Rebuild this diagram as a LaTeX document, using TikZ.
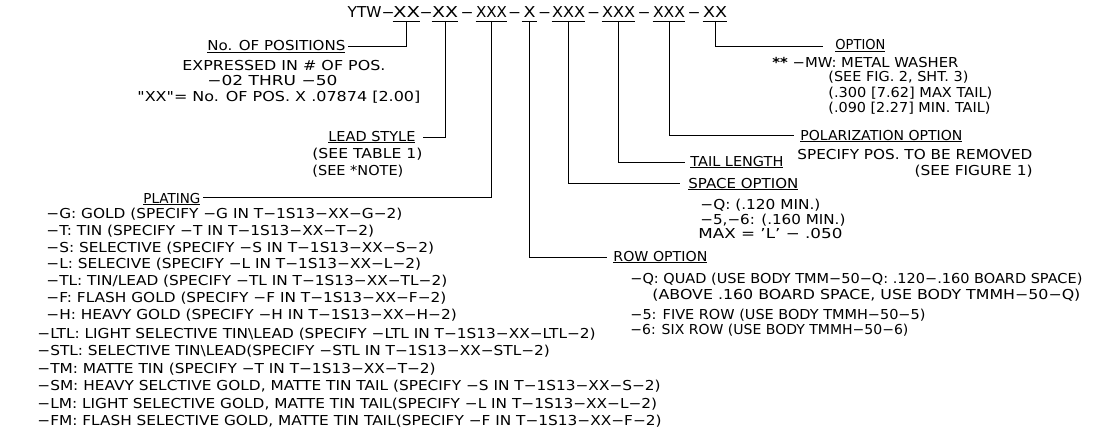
\documentclass[tikz,border=0pt]{standalone}
\usepackage{graphicx}
\usepackage{fontspec}
\newfontfamily\cad[FakeStretch=1.12]{DejaVu Sans}
\newfontfamily\cadt{DejaVu Sans}
\newcommand\fw[2]{\resizebox{#1pt}{\height}{#2}}
\begin{document}
\begin{tikzpicture}[x=1pt,y=-1pt,line width=0.8pt,
  txt/.style={inner sep=0pt,anchor=base west,font=\cad\fontsize{13.7}{16}\selectfont},
  rtxt/.style={txt,anchor=base east},
  seg/.style={inner sep=0pt,anchor=base,font=\cadt\fontsize{15}{18}\selectfont},
  dsh/.style={seg,font=\cadt\fontsize{14}{18}\selectfont}]
\useasboundingbox (0,0) rectangle (1099,441);
% title
\node[seg,anchor=base east] (t0) at (382,18) {\fw{34}{YTW}};
\node[dsh] (d1) at (388,18) {\fw{13}{−}};
\node[seg] (g1) at (406.5,18) {\fw{27}{XX}};
\node[dsh] (d2) at (426,18) {\fw{13}{−}};
\node[seg] (g2) at (445,18) {\fw{26}{XX}};
\node[dsh] (d3) at (467,18) {\fw{13}{−}};
\node[seg] (g3) at (491.5,18) {\fw{31}{XXX}};
\node[dsh] (d4) at (514.5,18) {\fw{13}{−}};
\node[seg,inner xsep=1.5pt] (g4) at (529.5,18) {\fw{12}{X}};
\node[dsh] (d5) at (544.5,18) {\fw{13}{−}};
\node[seg] (g5) at (568.5,18) {\fw{33}{XXX}};
\node[dsh] (d6) at (593.5,18) {\fw{13}{−}};
\node[seg] (g6) at (618.5,18) {\fw{33}{XXX}};
\node[dsh] (d7) at (644,18) {\fw{13}{−}};
\node[seg] (g7) at (669,18) {\fw{32}{XXX}};
\node[dsh] (d8) at (694,18) {\fw{13}{−}};
\node[seg] (g8) at (715,18) {\fw{24}{XX}};
\foreach \g in {g1,g2,g3,g4,g5,g6,g7,g8}
  \draw ([yshift=-3pt]\g.base west) -- ([yshift=-3pt]\g.base east);
% positions
\node[txt] (npos) at (207,51) {\fw{138}{\underline{No. OF POSITIONS}}};
\node[txt] (expr) at (182,71) {\fw{203}{EXPRESSED IN \# OF POS.}};
\node[txt] (thru) at (207,86) {\fw{130}{−02 THRU −50}};
\node[txt] (xxeq) at (137,101) {\fw{283}{"XX"= No. OF POS. X .07874 [2.00]}};
% lead style
\node[txt] (lead) at (328,141) {\fw{87}{\underline{LEAD STYLE}}};
\node[txt] (tab1) at (312,158) {\fw{110}{(SEE TABLE 1)}};
\node[txt] (note) at (312,175) {\fw{91}{(SEE *NOTE)}};
% plating
\node[txt] (plat) at (143,203) {\fw{57}{\underline{PLATING}}};
\node[txt] (pG) at (46,218) {−G: GOLD (SPECIFY −G IN T−1S13−XX−G−2)};
\node[txt] (pT) at (46,235) {−T: TIN (SPECIFY −T IN T−1S13−XX−T−2)};
\node[txt] (pS) at (46,252) {−S: SELECTIVE (SPECIFY −S IN T−1S13−XX−S−2)};
\node[txt] (pL) at (46,268.5) {−L: SELECIVE (SPECIFY −L IN T−1S13−XX−L−2)};
\node[txt] (pTL) at (46,285) {−TL: TIN/LEAD (SPECIFY −TL IN T−1S13−XX−TL−2)};
\node[txt] (pF) at (46,302) {−F: FLASH GOLD (SPECIFY −F IN T−1S13−XX−F−2)};
\node[txt] (pH) at (46,319) {−H: HEAVY GOLD (SPECIFY −H IN T−1S13−XX−H−2)};
\node[txt] (pLTL) at (37,338) {−LTL: LIGHT SELECTIVE TIN\textbackslash LEAD (SPECIFY −LTL IN T−1S13−XX−LTL−2)};
\node[txt] (pSTL) at (37,355.5) {−STL: SELECTIVE TIN\textbackslash LEAD(SPECIFY −STL IN T−1S13−XX−STL−2)};
\node[txt] (pTM) at (37,373) {−TM: MATTE TIN (SPECIFY −T IN T−1S13−XX−T−2)};
\node[txt] (pSM) at (37,390.5) {−SM: HEAVY SELCTIVE GOLD, MATTE TIN TAIL (SPECIFY −S IN T−1S13−XX−S−2)};
\node[txt] (pLM) at (37,408) {−LM: LIGHT SELECTIVE GOLD, MATTE TIN TAIL(SPECIFY −L IN T−1S13−XX−L−2)};
\node[txt] (pFM) at (37,425.5) {−FM: FLASH SELECTIVE GOLD, MATTE TIN TAIL(SPECIFY −F IN T−1S13−XX−F−2)};
% option
\node[txt] (opt) at (835,50) {\fw{50}{\underline{OPTION}}};
\node[txt] (mw) at (772,68) {\fw{186}{{\bfseries **} −MW: METAL WASHER}};
\node[txt] (fig2) at (828,82) {\fw{140}{(SEE FIG. 2, SHT. 3)}};
\node[txt] (omax) at (828,97) {\fw{164}{(.300 [7.62] MAX TAIL)}};
\node[txt] (omin) at (828,112) {\fw{162}{(.090 [2.27] MIN. TAIL)}};
% polarization
\node[txt] (pol) at (800,140) {\fw{162}{\underline{POLARIZATION OPTION}}};
\node[txt] (spec) at (797,159) {\fw{235}{SPECIFY POS. TO BE REMOVED}};
\node[rtxt] (fig1) at (1033,175) {\fw{118}{(SEE FIGURE 1)}};
% tail
\node[txt] (tail) at (690,166) {\fw{93}{\underline{TAIL LENGTH}}};
% space
\node[txt] (space) at (688,188) {\fw{110}{\underline{SPACE OPTION}}};
\node[txt] (sq) at (700,209) {\fw{120}{−Q: (.120 MIN.)}};
\node[txt] (s56) at (700,224) {\fw{145}{−5,−6: (.160 MIN.)}};
\node[txt] (smax) at (698,238) {\fw{144}{MAX = ’L’ − .050}};
% row
\node[txt] (row) at (613,261) {\fw{94}{\underline{ROW OPTION}}};
\node[txt] (rq) at (630,283) {\fw{452}{−Q: QUAD (USE BODY TMM−50−Q: .120−.160 BOARD SPACE)}};
\node[txt] (rab) at (652,299) {\fw{428}{(ABOVE .160 BOARD SPACE, USE BODY TMMH−50−Q)}};
\node[txt] (r5) at (630,319) {\fw{295}{−5: FIVE ROW (USE BODY TMMH−50−5)}};
\node[txt] (r6) at (630,334) {\fw{278}{−6: SIX ROW (USE BODY TMMH−50−6)}};
% leaders
\draw ([yshift=-3pt]g1.base) |- ([xshift=2pt,yshift=5pt]npos.base east);
\draw ([yshift=-3pt]g2.base) |- ([xshift=7pt,yshift=4pt]lead.base east);
\draw ([yshift=-3pt]g3.base) |- ([xshift=2pt,yshift=6pt]plat.base east);
\draw ([yshift=-3pt]g4.base) |- ([xshift=-6pt,yshift=4pt]row.base west);
\draw ([yshift=-3pt]g5.base) |- ([xshift=-8pt,yshift=5pt]space.base west);
\draw ([yshift=-3pt]g6.base) |- ([xshift=-5pt,yshift=4pt]tail.base west);
\draw ([yshift=-3pt]g7.base) |- ([xshift=-6pt,yshift=5pt]pol.base west);
\draw ([yshift=-3pt]g8.base) |- ([xshift=-12pt,yshift=4pt]opt.base west);
\end{tikzpicture}
\end{document}
